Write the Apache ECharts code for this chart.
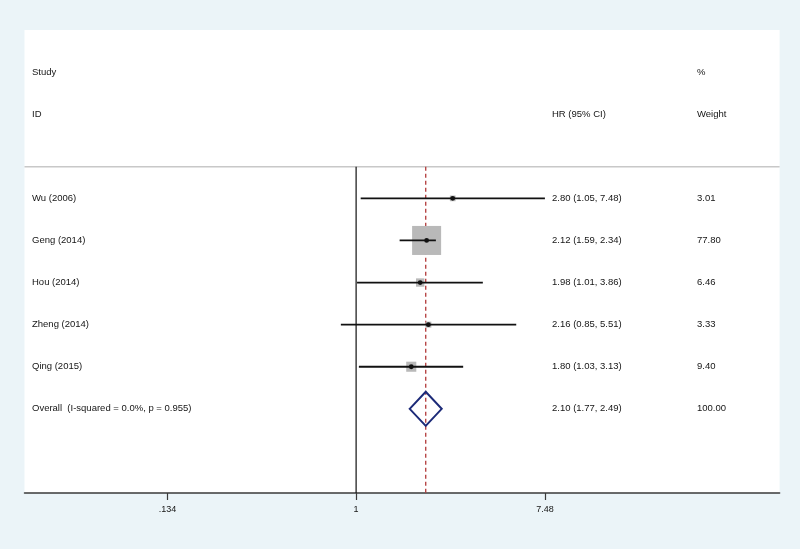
<!DOCTYPE html>
<html>
<head>
<meta charset="utf-8">
<script src="https://cdn.jsdelivr.net/npm/echarts@6/dist/echarts.min.js"></script>
<style>
  html, body { margin: 0; padding: 0; background: #ebf4f8; }
  #forest-chart { width: 800px; height: 549px; }
</style>
</head>
<body>
<div id="forest-chart"></div>
<script>
// 研究数据（HR 与 95% CI）
const studies = ['Wu (2006)', 'Geng (2014)', 'Hou (2014)', 'Zheng (2014)', 'Qing (2015)'];
const hr      = [2.80, 2.12, 1.98, 2.16, 1.80];
const lower   = [1.05, 1.59, 1.01, 0.85, 1.03];
const upper   = [7.48, 2.34, 3.86, 5.51, 3.13];
const weight  = [3.01, 77.80, 6.46, 3.33, 9.40];

const overallLabel = 'Overall  (I-squared = 0.0%, p = 0.955)';
const overallHr = 2.10, overallLower = 1.77, overallUpper = 2.49, overallWeight = 100.00;

const tickValues = [0.134, 1, 7.48];
const tickLabels = ['.134', '1', '7.48'];

// 布局与样式
const FONT = '9.5px "Liberation Sans", Arial, sans-serif';
const TEXT_COLOR = '#151515';
const COL_LABEL = 32, COL_HR = 552, COL_WT = 697;
const BOX_SCALE = 3.29;
const X_MIN = Math.log(0.02918), X_MAX = Math.log(91.24);
const SEP_Y = 0.25;

const fmt = (h, l, u) => `${h.toFixed(2)} (${l.toFixed(2)}, ${u.toFixed(2)})`;

// 表格文字：行号、研究、HR (95% CI)、权重
const tableRows = [
  [-2, 'Study', '', '%'],
  [-1, 'ID', 'HR (95% CI)', 'Weight'],
  ...studies.map((s, i) => [i + 1, s, fmt(hr[i], lower[i], upper[i]), weight[i].toFixed(2)]),
  [studies.length + 1, overallLabel, fmt(overallHr, overallLower, overallUpper), overallWeight.toFixed(2)]
];

const chartDom = document.getElementById('forest-chart');
const myChart = echarts.init(chartDom);

function txt(x, y, text) {
  return {
    type: 'text', x: x, y: y,
    style: { text: text, fill: TEXT_COLOR, font: FONT, verticalAlign: 'middle', align: 'left' }
  };
}

const option = {
  animation: false,
  grid: { left: 24.5, right: 20.4, top: 30, bottom: 56, show: true, backgroundColor: '#fff', borderWidth: 0 },
  xAxis: {
    type: 'value',
    min: X_MIN,
    max: X_MAX,
    splitLine: { show: false },
    axisLine: { onZero: false, lineStyle: { color: '#3a3a3a', width: 1.5 } },
    axisTick: { customValues: tickValues.map(Math.log), length: 7, lineStyle: { color: '#3a3a3a', width: 1.2 } },
    axisLabel: {
      customValues: tickValues.map(Math.log),
      formatter: v => {
        let best = 0;
        tickValues.forEach((t, i) => {
          if (Math.abs(Math.log(t) - v) < Math.abs(Math.log(tickValues[best]) - v)) best = i;
        });
        return tickLabels[best];
      },
      fontSize: 9,
      fontFamily: '"Liberation Sans", Arial, sans-serif',
      color: TEXT_COLOR,
      margin: 12
    }
  },
  yAxis: { type: 'value', inverse: true, min: -3, max: 8, show: false },
  series: [
    {
      // 分隔线、无效线 (HR=1)、合并效应虚线
      type: 'custom',
      z: 1,
      data: [[Math.log(overallHr), 0]],
      renderItem: (params, api) => {
        const s1 = api.coord([X_MIN, SEP_Y]);
        const s2 = api.coord([X_MAX, SEP_Y]);
        const n1 = api.coord([0, SEP_Y]);
        const n2 = api.coord([0, 8]);
        const o1 = api.coord([api.value(0), SEP_Y]);
        const o2 = api.coord([api.value(0), 8]);
        return {
          type: 'group',
          children: [
            { type: 'line', shape: { x1: s1[0], y1: s1[1], x2: s2[0], y2: s2[1] }, style: { stroke: '#c8c8c8', lineWidth: 1.5 } },
            { type: 'line', shape: { x1: o1[0], y1: o1[1], x2: o2[0], y2: o2[1] }, style: { stroke: '#b23a3a', lineWidth: 1.3, lineDash: [4, 3] } },
            { type: 'line', shape: { x1: n1[0], y1: n1[1], x2: n2[0], y2: n2[1] }, style: { stroke: '#111', lineWidth: 1.2 } }
          ]
        };
      }
    },
    {
      // 各研究：权重方块、置信区间、点估计
      type: 'custom',
      z: 2,
      data: studies.map((s, i) => [Math.log(hr[i]), i + 1, Math.log(lower[i]), Math.log(upper[i]), weight[i]]),
      renderItem: (params, api) => {
        const c = api.coord([api.value(0), api.value(1)]);
        const l = api.coord([api.value(2), api.value(1)]);
        const u = api.coord([api.value(3), api.value(1)]);
        const side = BOX_SCALE * Math.sqrt(api.value(4));
        return {
          type: 'group',
          children: [
            { type: 'rect', shape: { x: c[0] - side / 2, y: c[1] - side / 2, width: side, height: side }, style: { fill: '#b9b9b9' } },
            { type: 'line', shape: { x1: l[0], y1: l[1], x2: u[0], y2: u[1] }, style: { stroke: '#111', lineWidth: 1.8 } },
            { type: 'circle', shape: { cx: c[0], cy: c[1], r: 2.4 }, style: { fill: '#111' } }
          ]
        };
      }
    },
    {
      // 合并效应菱形
      type: 'custom',
      z: 3,
      data: [[Math.log(overallHr), studies.length + 1, Math.log(overallLower), Math.log(overallUpper)]],
      renderItem: (params, api) => {
        const c = api.coord([api.value(0), api.value(1)]);
        const l = api.coord([api.value(2), api.value(1)]);
        const u = api.coord([api.value(3), api.value(1)]);
        const h = 17;
        return {
          type: 'polygon',
          shape: { points: [[l[0], c[1]], [c[0], c[1] - h], [u[0], c[1]], [c[0], c[1] + h]] },
          style: { fill: 'none', stroke: '#1c2a78', lineWidth: 2 }
        };
      }
    },
    {
      // 表格文字
      type: 'custom',
      z: 4,
      data: tableRows.map(r => [0, r[0]]),
      renderItem: (params, api) => {
        const row = tableRows[params.dataIndex];
        const y = api.coord([0, api.value(1)])[1];
        return {
          type: 'group',
          children: [txt(COL_LABEL, y, row[1]), txt(COL_HR, y, row[2]), txt(COL_WT, y, row[3])]
        };
      }
    }
  ]
};

myChart.setOption(option);

window.addEventListener('resize', () => {
  myChart.resize();
});
</script>
</body>
</html>
